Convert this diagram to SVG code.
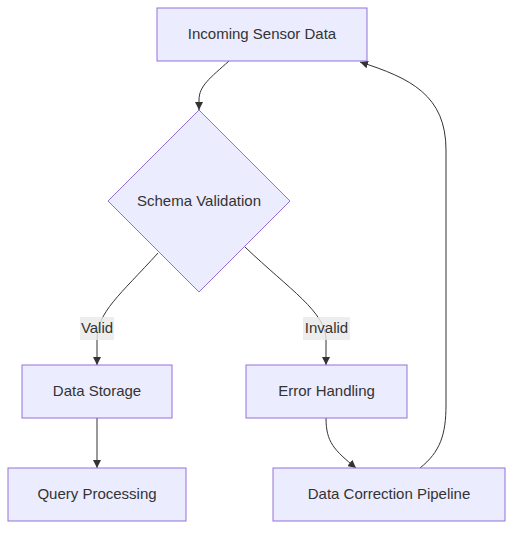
<svg xmlns="http://www.w3.org/2000/svg" width="521" height="537" viewBox="0 0 521 537">
<style>
.node{fill:#ECECFF;stroke:#9370DB;stroke-width:1}
.lbl{font-family:"Liberation Sans",Arial,sans-serif;font-size:15px;fill:#333;text-anchor:middle;dominant-baseline:central}
.edge{fill:none;stroke:#333;stroke-width:1}
.elbg{fill:#E8E8E8;opacity:0.8}
</style>
<defs>
<marker id="arrow" viewBox="0 0 10 10" refX="10" refY="5" markerWidth="8" markerHeight="8" markerUnits="userSpaceOnUse" orient="auto">
<path d="M0,0 L10,5 L0,10 z" fill="#333"/>
</marker>
</defs>
<rect width="521" height="537" fill="#fff"/>
<g id="edges">
<path class="edge" d="M229,61 C210,78 199,86 199,100 L199,110" marker-end="url(#arrow)"/>
<path class="edge" d="M158,253 C120,295 97,312 97,340 L97,365" marker-end="url(#arrow)"/>
<path class="edge" d="M245,247 C290,290 326,312 326,340 L326,365" marker-end="url(#arrow)"/>
<path class="edge" d="M97,418 L97,468" marker-end="url(#arrow)"/>
<path class="edge" d="M326,418 C326,442 334,450 356,468" marker-end="url(#arrow)"/>
<path class="edge" d="M420,468 C440,452 446,435 446,405 L446,150 C446,95 410,78 360,62" marker-end="url(#arrow)"/>
</g>
<g id="edge-labels">
<g id="label-valid"><rect class="elbg" x="80" y="317" width="34" height="23"/><text class="lbl" x="97" y="327.5">Valid</text></g>
<g id="label-invalid"><rect class="elbg" x="303" y="317" width="47" height="23"/><text class="lbl" x="326.5" y="327.5">Invalid</text></g>
</g>
<g id="node-incoming"><rect class="node" x="157" y="8" width="210" height="53"/><text class="lbl" x="262" y="33.5">Incoming Sensor Data</text></g>
<g id="node-schema"><polygon class="node" points="199,110 290,201 199,292 108,201"/><text class="lbl" x="199" y="200">Schema Validation</text></g>
<g id="node-storage"><rect class="node" x="22" y="365" width="150" height="53"/><text class="lbl" x="97" y="390.5">Data Storage</text></g>
<g id="node-error"><rect class="node" x="246" y="365" width="161" height="53"/><text class="lbl" x="326.5" y="390.5">Error Handling</text></g>
<g id="node-query"><rect class="node" x="8" y="468" width="178" height="53"/><text class="lbl" x="97" y="493.5">Query Processing</text></g>
<g id="node-correction"><rect class="node" x="273" y="468" width="232" height="53"/><text class="lbl" x="389" y="493.5">Data Correction Pipeline</text></g>
</svg>
